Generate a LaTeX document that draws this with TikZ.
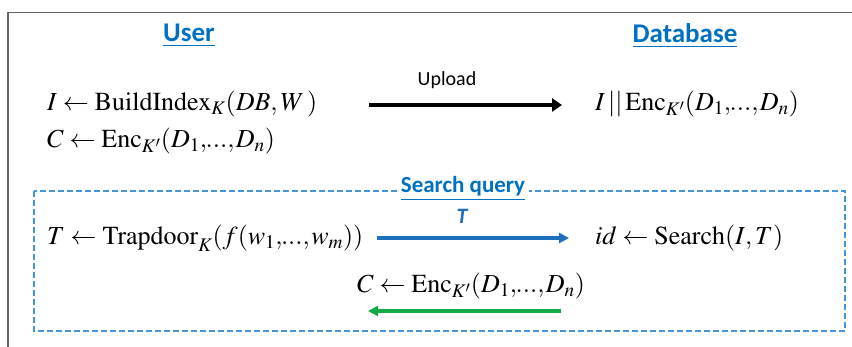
\documentclass[tikz,border=0pt]{standalone}
\usepackage{mathptmx}
\usepackage{fontspec}
\setmainfont{Liberation Serif}
\setsansfont{Carlito}
\usetikzlibrary{arrows.meta}
\definecolor{hblue}{RGB}{0,112,192}
\definecolor{dblue}{RGB}{70,150,215}
\definecolor{ablue}{RGB}{30,110,190}
\definecolor{agreen}{RGB}{20,170,70}
\definecolor{frame}{RGB}{100,100,100}
\newcommand{\dd}{{,}\mkern-1mu...{,}\mkern1mu}
\tikzset{
  head/.style={font=\sffamily\bfseries\fontsize{27}{30}\selectfont, text=hblue, inner sep=0pt},
  eq/.style={font=\fontsize{26}{30}\selectfont, anchor=west, inner sep=0pt},
  lab/.style={font=\sffamily\fontsize{20}{24}\selectfont, inner sep=0pt},
}
\begin{document}
\begin{tikzpicture}[x=1pt,y=-1pt]
\useasboundingbox (0,0) rectangle (852,347);
\fill[white] (0,0) rectangle (852,347);
% outer frame
\draw[frame, line width=1.8pt] (8,347) -- (8,12.5) -- (852,12.5);
% dashed box
\draw[dblue, line width=1.4pt, dash pattern=on 6pt off 3pt] (34,191) rectangle (845,331);
% headings
\node[head] (user) at (189,36) {\underline{User}};
\node[head] (db) at (685,36) {\underline{Database}};
% upload row
\node[eq] (bi) at (47,104) {$I \leftarrow \mathrm{BuildIndex}_{K}(DB,W\,)$};
\node[eq] (enc1) at (47,141) {$C \leftarrow \mathrm{Enc}_{K'}(D_1\dd D_n)$};
\node[eq] (idx) at (595,104) {$I\,||\,\mathrm{Enc}_{K'}(D_1\dd D_n)$};
\coordinate (u1) at (369,105);
\coordinate (u2) at (562,105);
\draw[line width=4.2pt, -{Triangle[length=10pt,width=13pt]}] (u1) -- (u2);
\node[lab] (upl) at (447,80) {Upload};
% search query
\node[font=\sffamily\bfseries\fontsize{23}{26}\selectfont, text=hblue, fill=white, inner xsep=4pt, inner ysep=1pt] (sq) at (463,189) {\underline{Search query}};
\node[eq] (td) at (47,238) {$T \leftarrow \mathrm{Trapdoor}_{K}(f(w_1\dd w_m))$};
\node[eq] (srch) at (595,238) {$id \leftarrow \mathrm{Search}(I,T)$};
\coordinate (t1) at (377,238);
\coordinate (t2) at (569,238);
\draw[ablue, line width=3.3pt, -{Triangle[length=10pt,width=10pt]}] (t1) -- (t2);
\node[font=\sffamily\bfseries\itshape\fontsize{22}{26}\selectfont, text=ablue, inner sep=0pt] (tl) at (462,216) {T};
\node[eq] (enc2) at (357,286) {$C \leftarrow \mathrm{Enc}_{K'}(D_1\dd D_n)$};
\coordinate (g1) at (561,311);
\coordinate (g2) at (368,311);
\draw[agreen, line width=3.5pt, -{Triangle[length=10pt,width=10pt]}] (g1) -- (g2);
\end{tikzpicture}
\end{document}
